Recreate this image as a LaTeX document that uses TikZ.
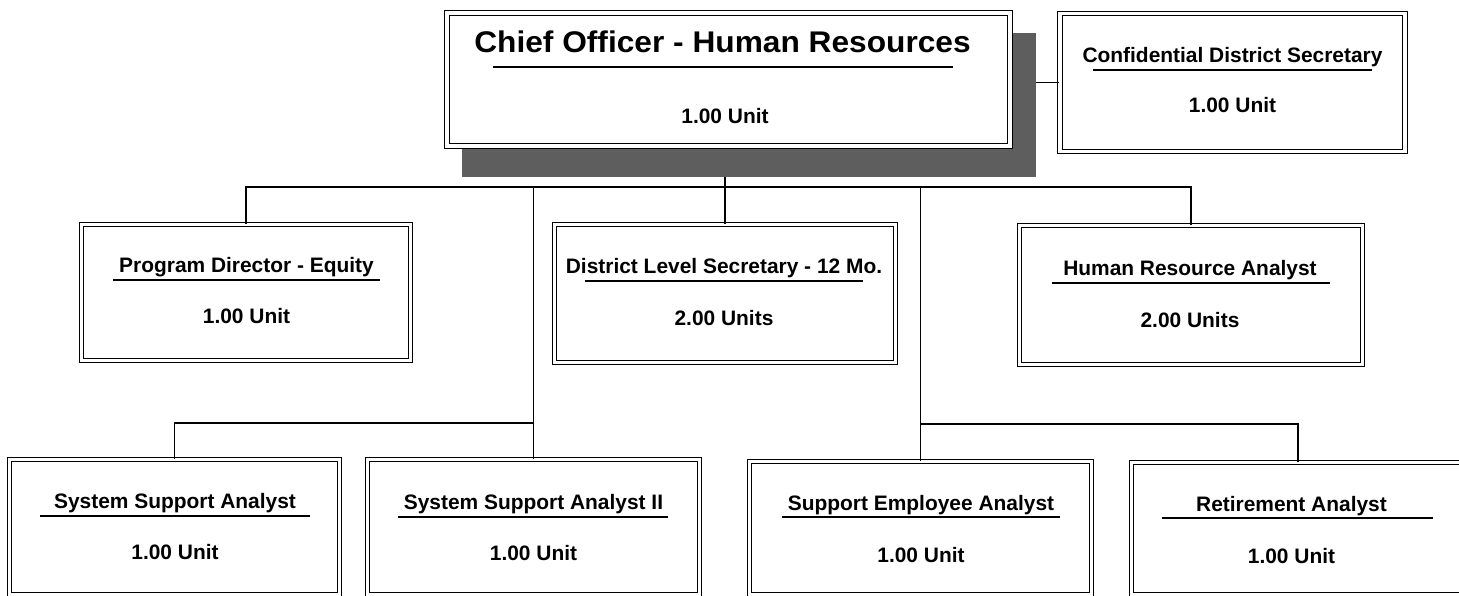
\documentclass[tikz,border=0pt]{standalone}
\usepackage{fontspec}
\setmainfont{Liberation Sans}
\newfontfamily\widefont[FakeStretch=1.06]{Liberation Sans}
\begin{document}
\begin{tikzpicture}[x=1bp,y=-1bp,
  box/.style={draw=black, line width=1.1bp, double=white, double distance=3.5bp, fill=white, rectangle, inner sep=0pt},
  shadowbox/.style={fill=black!63, draw=none, rectangle, inner sep=0pt},
  wire/.style={draw=black, line width=1.2bp},
  uline/.style={draw=black, line width=1.6bp},
  ttl/.style={font=\bfseries\fontsize{21}{24}\selectfont, anchor=base, inner sep=0pt},
  bigttl/.style={font=\widefont\bfseries\fontsize{30}{34}\selectfont, anchor=base, inner sep=0pt},
  unit/.style={font=\bfseries\fontsize{21}{24}\selectfont, anchor=base, inner sep=0pt}]
\useasboundingbox (0,0) rectangle (1459,596);
\clip (0,0) rectangle (1459,596);
\fill[white] (0,0) rectangle (1459,596);

% boxes
\node[shadowbox, minimum width=574bp, minimum height=144bp] (shadow) at (749,105) {};
\node[box, minimum width=563bp, minimum height=133bp] (chief) at (728.5,79.5) {};
\node[box, minimum width=345bp, minimum height=138bp] (conf) at (1232.5,82.5) {};
\node[box, minimum width=329bp, minimum height=136bp] (pde) at (246,292.5) {};
\node[box, minimum width=341bp, minimum height=138bp] (dls) at (725,293.5) {};
\node[box, minimum width=343bp, minimum height=139bp] (hra) at (1191,295) {};
\node[box, minimum width=330bp, minimum height=135.5bp] (ssa) at (174.5,527.25) {};
\node[box, minimum width=332bp, minimum height=135.5bp] (ssb) at (533.5,527.25) {};
\node[box, minimum width=342bp, minimum height=133.5bp] (sea) at (920.5,528.25) {};
\node[box, minimum width=333bp, minimum height=132.5bp] (ra) at (1298,528.75) {};

% connectors
\coordinate (bus) at (0,187);
\coordinate (subL) at (0,423);
\coordinate (subR) at (0,424);
\draw[wire] (conf.west) -- (conf.west -| shadow.east);
\draw[wire] (dls.north) -- (dls.north |- shadow.south);
\draw[wire] (pde.north) -- (pde.north |- bus) -- (hra.north |- bus) -- (hra.north);
\draw[wire] (ssb.north) -- (ssb.north |- bus);
\draw[wire] (ssa.north) -- (ssa.north |- subL) -- (ssb.north |- subL);
\draw[wire] (sea.north) -- (sea.north |- bus);
\draw[wire] (ra.north) -- (ra.north |- subR) -- (sea.north |- subR);

% texts
\node[bigttl] (tchief) at (722.5,53) {Chief Officer - Human Resources};
\node[unit] (uchief) at (725,124) {1.00 Unit};
\node[ttl] (tconf) at (1232.5,63) {Confidential District Secretary};
\node[unit] (uconf) at (1232.5,113) {1.00 Unit};
\node[ttl] (tpde) at (246.5,272) {Program Director - Equity};
\node[unit] (upde) at (246.5,323) {1.00 Unit};
\node[ttl] (tdls) at (724,273) {District Level Secretary - 12 Mo.};
\node[unit] (udls) at (724,325) {2.00 Units};
\node[ttl] (thra) at (1190,275) {Human Resource Analyst};
\node[unit] (uhra) at (1190,327) {2.00 Units};
\node[ttl] (tssa) at (175,508) {System Support Analyst};
\node[unit] (ussa) at (175,559) {1.00 Unit};
\node[ttl] (tssb) at (533.5,509) {System Support Analyst II};
\node[unit] (ussb) at (533.5,560) {1.00 Unit};
\node[ttl] (tsea) at (921,510) {Support Employee Analyst};
\node[unit] (usea) at (921,562) {1.00 Unit};
\node[ttl] (tra) at (1291.5,511) {Retirement Analyst};
\node[unit] (ura) at (1291.5,563) {1.00 Unit};

% underlines
\draw[uline] (493,67) -- (953,67);
\draw[uline] (1093,70) -- (1372,70);
\draw[uline] (113,280) -- (380,280);
\draw[uline] (585,281) -- (863,281);
\draw[uline] (1052,283) -- (1330,283);
\draw[uline] (40,516) -- (310,516);
\draw[uline] (398,517) -- (668,517);
\draw[uline] (782,517) -- (1060,517);
\draw[uline] (1162,518) -- (1433,518);
\end{tikzpicture}
\end{document}
